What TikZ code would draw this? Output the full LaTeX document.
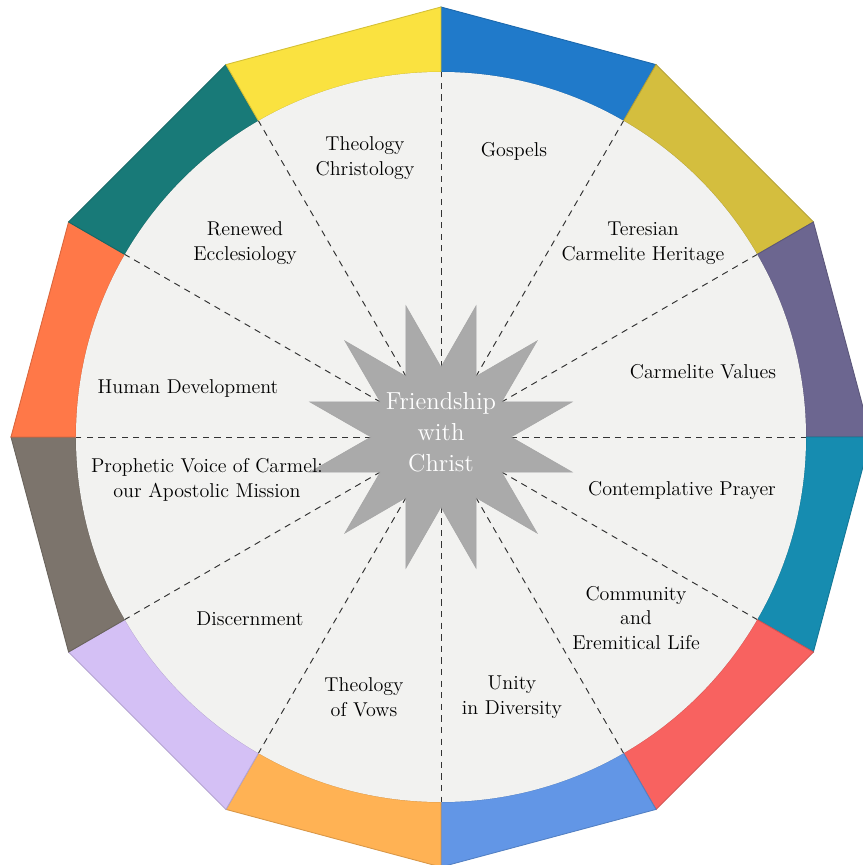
\documentclass[tikz,border=0pt]{standalone}
\usepackage{tikz}
\usepackage{xcolor}

\definecolor{rimgospels}{RGB}{32,122,202}
\definecolor{rimheritage}{RGB}{212,190,62}
\definecolor{rimvalues}{RGB}{108,102,144}
\definecolor{rimprayer}{RGB}{22,140,176}
\definecolor{rimcommunity}{RGB}{248,98,96}
\definecolor{rimunity}{RGB}{98,150,230}
\definecolor{rimvows}{RGB}{255,178,84}
\definecolor{rimdiscern}{RGB}{212,192,245}
\definecolor{rimprophetic}{RGB}{124,116,108}
\definecolor{rimhuman}{RGB}{255,120,72}
\definecolor{rimchurch}{RGB}{24,122,120}
\definecolor{rimtheology}{RGB}{250,226,64}
\definecolor{facegray}{RGB}{242,242,240}
\definecolor{stargray}{RGB}{170,170,170}

\tikzset{
    area/.style={font=\fontsize{11.4}{14.2}\selectfont, align=center, text=black},
    hubtext/.style={font=\fontsize{14}{17.6}\selectfont, align=center, text=white},
    spoke/.style={dash pattern=on 3.6pt off 3pt, line width=0.55pt, black!80},
}

\begin{document}
\begin{tikzpicture}[x=0.2mm, y=0.2mm]
        \useasboundingbox (-441,-428) rectangle (421,437);

        % Draw the coloured rim, one piece per topic
        \foreach \col [count=\i from 0] in {rimgospels, rimheritage, rimvalues, rimprayer, rimcommunity, rimunity, rimvows, rimdiscern, rimprophetic, rimhuman, rimchurch, rimtheology} {
            \filldraw[fill=\col, draw=\col!85!black, line width=0.5pt]
                ({90-30*\i}:430) -- ({60-30*\i}:430) -- ({60-30*\i}:365)
                arc[start angle={60-30*\i}, end angle={90-30*\i}, radius=365] -- cycle;
        }

        % Fill the inner disc
        \fill[facegray] (0,0) circle (365);

        % Draw dashed spokes between the topics
        \foreach \a in {0,30,...,330}
            \draw[spoke] (0,0) -- (\a:365);

        % Draw the star over the spokes
        \filldraw[fill=stargray, draw=black!35, line width=0.3pt] (0:70)
            \foreach \a in {0,...,11} { -- ({15+30*\a}:136) -- ({30+30*\a}:70) } -- cycle;
        \node[hubtext] (hub) at (0,5) {Friendship\\with\\Christ};

        % Topic labels
        \node[area] (gospels) at (73,286) {Gospels};
        \node[area] (theology) at (-76,279) {Theology\\Christology};
        \node[area] (church) at (-196,194) {Renewed\\Ecclesiology};
        \node[area] (heritage) at (202,194) {Teresian\\Carmelite Heritage};
        \node[area] (human) at (-253,49) {Human Development};
        \node[area] (values) at (262,65) {Carmelite Values};
        \node[area] (prophetic) at (-234,-43) {Prophetic Voice of Carmel:\\our Apostolic Mission};
        \node[area] (prayer) at (241,-53) {Contemplative Prayer};
        \node[area] (community) at (195,-181) {Community\\and\\Eremitical Life};
        \node[area] (discern) at (-191,-182) {Discernment};
        \node[area] (vows) at (-77,-260) {Theology\\of Vows};
        \node[area] (unity) at (71,-260) {Unity\\in Diversity};

    \end{tikzpicture}
\end{document}
